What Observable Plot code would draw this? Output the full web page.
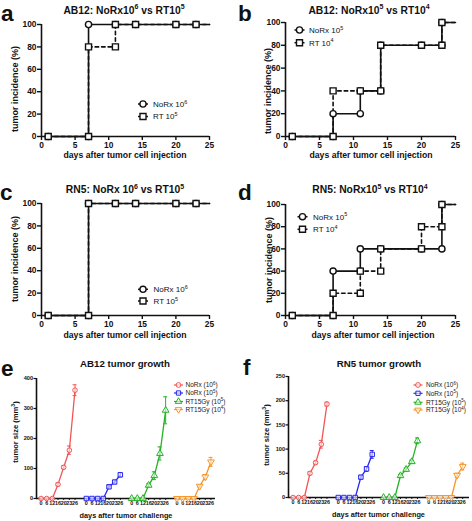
<!DOCTYPE html>
<html><head><meta charset="utf-8">
<script src="https://cdn.jsdelivr.net/npm/d3@7"></script>
<script src="https://cdn.jsdelivr.net/npm/@observablehq/plot@0.6"></script>
<style>
html,body{margin:0;padding:0;background:#fff;}
#root{position:relative;width:472px;height:521px;overflow:hidden;font-family:"Liberation Sans",Arial,sans-serif;}
#root svg{position:absolute;}
</style></head><body><div id="root"></div>
<script>
// ---------- data ----------
const days = [1, 7, 11, 14, 20, 23];
const endDay = 25;
const incidenceTicks = [0, 20, 40, 60, 80, 100];
const dayTicks = [0, 5, 10, 15, 20, 25];
const aNoRx = [0, 100, 100, 100, 100, 100];
const aRT   = [0, 80, 100, 100, 100, 100];
const bNoRx = [0, 20, 40, 80, 80, 100];
const bRT   = [0, 40, 40, 80, 80, 100];
const cNoRx = [0, 100, 100, 100, 100, 100];
const cRT   = [0, 100, 100, 100, 100, 100];
const dNoRx = [0, 40, 60, 60, 60, 100];
const dRT   = [0, 20, 40, 60, 80, 100];

const growthDayLabels = ["0", "6", "12", "16", "20", "23", "26"];
const groupNames = ["NoRx (10^6)", "NoRx (10^5)", "RT15Gy (10^5)", "RT15Gy (10^4)"];
const groupColors = ["#f25555", "#2626f2", "#22b422", "#f7952a"];
const eMeans = [[0,0,0,47,104,161,361],[0,0,0,0,39,55,79],[0,0,0,44,76,150,294],[0,0,0,0,41,72,122]];
const eSem   = [[0,0,0,4,5,14,18],[0,0,0,0,4,4,7],[0,0,0,5,13,22,45],[0,0,0,0,3,8,15]];
const fMeans = [[0,0,0,50,72,110,193],[0,0,0,0,42,59,89],[0,0,0,45,58,74,117],[0,0,0,0,0,46,64]];
const fSem   = [[0,0,0,3,3,8,4],[0,0,0,0,3,5,8],[0,0,0,3,3,3,6],[0,0,0,0,0,4,7]];
const eTicks = [0, 100, 200, 300, 400];
const fTicks = [0, 50, 100, 150, 200, 250];

// ---------- helpers ----------
const root = document.getElementById("root");
const FONT = "Liberation Sans, Arial, sans-serif";
const INK = "#111";

const triDown = {
  draw(ctx, size) {
    const s3 = Math.sqrt(3);
    const y = -Math.sqrt(size / (s3 * 3));
    ctx.moveTo(0, -y * 2);
    ctx.lineTo(-s3 * y, y);
    ctx.lineTo(s3 * y, y);
    ctx.closePath();
  }
};
const groupSymbols = ["circle", "square", "triangle", triDown];
const d3Symbols = [d3.symbolCircle, d3.symbolSquare, d3.symbolTriangle, triDown];

function place(svg, left, top) {
  svg.style.left = left + "px";
  svg.style.top = top + "px";
  root.appendChild(svg);
}

function incidencePanel(o) {
  const lineData = vals => days.map((d, i) => ({x: d, y: vals[i]})).concat([{x: endDay, y: vals[vals.length - 1]}]);
  const pts = vals => {
    const out = [];
    days.forEach((d, i) => {
      if (i > 0 && vals[i] !== vals[i - 1]) out.push({x: d, y: vals[i - 1]});
      out.push({x: d, y: vals[i]});
    });
    return out;
  };
  const svg = Plot.plot({
    width: o.width, height: o.height,
    marginLeft: o.mL, marginRight: o.mR, marginTop: o.mT, marginBottom: o.mB,
    style: {background: "transparent", color: INK, fontFamily: FONT, overflow: "visible"},
    x: {domain: [0, 25], label: null},
    y: {domain: [0, 100], label: null},
    marks: [
      Plot.axisX(dayTicks, {tickSize: 4, tickPadding: 1.5, fontSize: 8.4, fontWeight: "bold", strokeWidth: 1.4, label: null}),
      Plot.axisY(incidenceTicks, {tickSize: 4, tickPadding: 1, fontSize: 8.4, fontWeight: "bold", strokeWidth: 1.4, label: null}),
      Plot.ruleY([0], {stroke: INK, strokeWidth: 1.6}),
      Plot.ruleX([0], {stroke: INK, strokeWidth: 1.6}),
      Plot.line(lineData(o.rt), {x: "x", y: "y", curve: "step-after", stroke: INK, strokeWidth: 1.6, strokeDasharray: "3.5,3"}),
      Plot.line(lineData(o.noRx), {x: "x", y: "y", curve: "step-after", stroke: INK, strokeWidth: 1.6}),
      Plot.dot(pts(o.noRx), {x: "x", y: "y", symbol: "circle", r: 3.1, fill: "white", stroke: INK, strokeWidth: 1.4}),
      Plot.dot(pts(o.rt), {x: "x", y: "y", symbol: "square", r: 3.4, fill: "white", stroke: INK, strokeWidth: 1.4})
    ]
  });
  place(svg, o.left, o.top);
}

function growthPanel(o) {
  const rows = [];
  o.means.forEach((arr, g) => arr.forEach((v, i) => rows.push({g, pos: g * 8 + i, v, s: o.sems[g][i]})));
  const tickPos = rows.map(r => r.pos);
  const marks = [
    Plot.axisX(tickPos, {tickSize: 2, tickPadding: 1, fontSize: 5.4, fontWeight: "bold", strokeWidth: 1,
      tickFormat: d => growthDayLabels[d % 8], label: null}),
    Plot.axisY(o.yTicks, {tickSize: 2.5, tickPadding: 1, fontSize: 5.6, fontWeight: "bold", strokeWidth: 1.2, label: null}),
    Plot.ruleY([0], {stroke: INK, strokeWidth: 1.6}),
    Plot.ruleX([o.xDomain[0]], {stroke: INK, strokeWidth: 1.6})
  ];
  for (let g = 0; g < 4; g++) {
    const data = rows.filter(r => r.g === g);
    const err = data.filter(r => r.s > 0);
    const c = groupColors[g];
    marks.push(
      Plot.line(data, {x: "pos", y: "v", stroke: c, strokeWidth: 1.3}),
      Plot.ruleX(err, {x: "pos", y1: d => d.v - d.s, y2: d => d.v + d.s, stroke: c, strokeWidth: 1}),
      Plot.ruleY(err, {y: d => d.v + d.s, x1: d => d.pos - 0.35, x2: d => d.pos + 0.35, stroke: c, strokeWidth: 1}),
      Plot.ruleY(err, {y: d => d.v - d.s, x1: d => d.pos - 0.35, x2: d => d.pos + 0.35, stroke: c, strokeWidth: 1}),
      Plot.dot(data, {x: "pos", y: "v", symbol: groupSymbols[g], r: g === 0 ? 2.3 : 2.5, fill: "white", fillOpacity: 0.6, stroke: c, strokeWidth: 1})
    );
  }
  const svg = Plot.plot({
    width: o.width, height: o.height,
    marginLeft: o.mL, marginRight: o.mR, marginTop: o.mT, marginBottom: o.mB,
    style: {background: "transparent", color: INK, fontFamily: FONT, overflow: "visible"},
    x: {domain: o.xDomain, label: null},
    y: {domain: [0, o.yMax], label: null},
    marks
  });
  place(svg, o.left, o.top);
}

// ---------- panels ----------
incidencePanel({left: 0, top: 0, width: 236, height: 160, mL: 41, mR: 27, mT: 24, mB: 24, noRx: aNoRx, rt: aRT});
incidencePanel({left: 236, top: 0, width: 236, height: 160, mL: 49, mR: 17, mT: 22, mB: 24, noRx: bNoRx, rt: bRT});
incidencePanel({left: 0, top: 180, width: 236, height: 160, mL: 41, mR: 27, mT: 23, mB: 25, noRx: cNoRx, rt: cRT});
incidencePanel({left: 236, top: 180, width: 236, height: 160, mL: 49, mR: 17, mT: 24, mB: 25, noRx: dNoRx, rt: dRT});
growthPanel({left: 0, top: 370, width: 236, height: 140, mL: 36, mR: 21, mT: 8, mB: 12,
  means: eMeans, sems: eSem, yMax: 400, yTicks: eTicks, xDomain: [-0.8, 30.8]});
growthPanel({left: 236, top: 370, width: 236, height: 140, mL: 52, mR: 3, mT: 6, mB: 13,
  means: fMeans, sems: fSem, yMax: 250, yTicks: fTicks, xDomain: [-0.8, 31.2]});

// ---------- overlay: letters, titles, axis labels, legends ----------
const ov = d3.select(root).append("svg").attr("width", 472).attr("height", 521)
  .style("left", "0px").style("top", "0px").style("pointer-events", "none")
  .attr("font-family", FONT).attr("fill", INK);

function rich(x, y, str, size, weight, anchor, rotate) {
  const t = ov.append("text").attr("x", x).attr("y", y).attr("font-size", size)
    .attr("font-weight", weight).attr("text-anchor", anchor || "start");
  if (rotate) t.attr("transform", `rotate(-90 ${x} ${y})`);
  const parts = str.split(/\^(\d)/);
  let shifted = false;
  parts.forEach((p, i) => {
    if (p === "") return;
    const ts = t.append("tspan").text(p);
    if (i % 2 === 1) { ts.attr("font-size", size * 0.68).attr("dy", -size * 0.4); shifted = true; }
    else if (shifted) { ts.attr("dy", size * 0.4); shifted = false; }
  });
  return t;
}

// panel letters
[["a", 1, 21], ["b", 238, 21], ["c", 0, 200], ["d", 238, 200], ["e", 1, 376], ["f", 243, 375]]
  .forEach(([l, x, y]) => ov.append("text").attr("x", x).attr("y", y).attr("font-size", 22.5).attr("font-weight", "bold").text(l));

// titles
rich(124, 13.5, "AB12: NoRx10^6 vs RT10^5", 10.3, "bold", "middle");
rich(369, 13.5, "AB12: NoRx10^5 vs RT10^4", 10.3, "bold", "middle");
rich(125, 193, "RN5: NoRx 10^6 vs RT10^5", 10.3, "bold", "middle");
rich(370, 193, "RN5: NoRx10^5 vs RT10^4", 10.3, "bold", "middle");
rich(125, 367, "AB12 tumor growth", 9.7, "bold", "middle");
rich(379, 366.5, "RN5 tumor growth", 9.7, "bold", "middle");

// x axis labels
rich(125, 158, "days after tumor cell injection", 8.7, "bold", "middle");
rich(371, 158, "days after tumor cell injection", 8.7, "bold", "middle");
rich(125, 338, "days after tumor cell injection", 8.7, "bold", "middle");
rich(373, 338, "days after tumor cell injection", 8.7, "bold", "middle");
rich(126, 518, "days after tumor challenge", 7.3, "bold", "middle");
rich(378.5, 517, "days after tumor challenge", 7.3, "bold", "middle");

// y axis labels
rich(18, 89, "tumor incidence (%)", 9, "bold", "middle", true);
rich(271, 91, "tumor incidence (%)", 9, "bold", "middle", true);
rich(18, 259, "tumor incidence (%)", 9, "bold", "middle", true);
rich(272, 260, "tumor incidence (%)", 9, "bold", "middle", true);
rich(18, 432, "tumor size (mm^3)", 7.6, "bold", "middle", true);
rich(269, 435, "tumor size (mm^3)", 7.6, "bold", "middle", true);

// legends for incidence panels
function incLegend(mx, tx, y1, y2, l1, l2) {
  [[y1, d3.symbolCircle, 3.1, l1], [y2, d3.symbolSquare, 3.4, l2]].forEach(([y, sym, r, lab]) => {
    ov.append("line").attr("x1", mx - 5).attr("x2", mx + 5).attr("y1", y).attr("y2", y).attr("stroke", INK).attr("stroke-width", 1.5);
    ov.append("path").attr("d", d3.symbol(sym, Math.PI * r * r)()).attr("transform", `translate(${mx},${y})`)
      .attr("fill", "white").attr("stroke", INK).attr("stroke-width", 1.4);
    rich(tx, y + 2.8, lab, 8, "normal", "start");
  });
}
incLegend(143, 153, 104, 116.5, "NoRx 10^6", "RT 10^5");
incLegend(299.5, 309, 30, 42.7, "NoRx 10^5", "RT 10^4");
incLegend(143, 153.5, 289.3, 301, "NoRx 10^6", "RT 10^5");
incLegend(302.5, 313, 216.7, 229.3, "NoRx 10^5", "RT 10^4");

// legends for growth panels
function growthLegend(mx, tx, ys) {
  ys.forEach((y, g) => {
    const c = groupColors[g];
    ov.append("line").attr("x1", mx - 4.5).attr("x2", mx + 4.5).attr("y1", y).attr("y2", y).attr("stroke", c).attr("stroke-width", 1.2);
    ov.append("path").attr("d", d3.symbol(d3Symbols[g], Math.PI * 2.4 * 2.4)()).attr("transform", `translate(${mx},${y})`)
      .attr("fill", "white").attr("fill-opacity", 0.6).attr("stroke", c).attr("stroke-width", 1);
    rich(tx, y + 2.2, groupNames[g], 6.5, "normal", "start").attr("fill", "#222");
  });
}
growthLegend(178.5, 185.5, [385, 393, 401.5, 409.5]);
growthLegend(418, 426, [385, 393.3, 402.3, 410]);
</script>
</body></html>
